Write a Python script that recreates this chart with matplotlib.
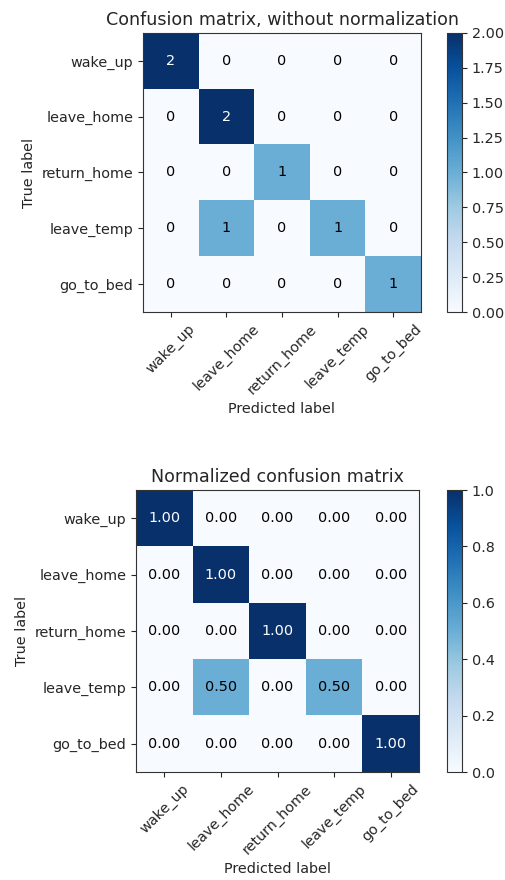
import numpy as np
import matplotlib
matplotlib.use("Agg")
import matplotlib.pyplot as plt

classes = ["wake_up", "leave_home", "return_home", "leave_temp", "go_to_bed"]
cm_counts = [
    [2, 0, 0, 0, 0],
    [0, 2, 0, 0, 0],
    [0, 0, 1, 0, 0],
    [0, 1, 0, 1, 0],
    [0, 0, 0, 0, 1],
]
cm_norm = [
    [1.00, 0.00, 0.00, 0.00, 0.00],
    [0.00, 1.00, 0.00, 0.00, 0.00],
    [0.00, 0.00, 1.00, 0.00, 0.00],
    [0.00, 0.50, 0.00, 0.50, 0.00],
    [0.00, 0.00, 0.00, 0.00, 1.00],
]
titles = ["Confusion matrix, without normalization", "Normalized confusion matrix"]

W, H = 506, 880
fig = plt.figure(figsize=(W / 100, H / 100), dpi=100)
TXT = "#262626"
FS = 10.4
plt.rcParams["text.color"] = TXT
plt.rcParams["axes.labelcolor"] = TXT
plt.rcParams["xtick.color"] = TXT
plt.rcParams["ytick.color"] = TXT
plt.rcParams["axes.edgecolor"] = "#333333"

def px(x0, y0, x1, y1):
    return [x0 / W, 1 - y1 / H, (x1 - x0) / W, (y1 - y0) / H]

panels = [
    (np.array(cm_counts, dtype=float), "d", titles[0], px(143, 33, 421, 312), px(447, 33, 462, 312)),
    (np.array(cm_norm, dtype=float), ".2f", titles[1], px(136, 490, 419, 772), px(447, 490, 462, 772)),
]

for cm, fmt, title, axpos, cbpos in panels:
    ax = fig.add_axes(axpos)
    cax = fig.add_axes(cbpos)
    im = ax.imshow(cm, interpolation="nearest", cmap=plt.cm.Blues, aspect="auto")
    ax.set_title(title, fontsize=12.6)
    cb = fig.colorbar(im, cax=cax)
    cb.ax.tick_params(labelsize=FS)
    ticks = np.arange(len(classes))
    ax.set_xticks(ticks)
    ax.set_xticklabels(classes, rotation=45, fontsize=FS)
    ax.set_yticks(ticks)
    ax.set_yticklabels(classes, fontsize=FS)
    thresh = cm.max() / 2.0
    for i in range(cm.shape[0]):
        for j in range(cm.shape[1]):
            val = int(cm[i, j]) if fmt == "d" else cm[i, j]
            ax.text(j, i, format(val, fmt), ha="center", va="center", fontsize=FS,
                    color="white" if cm[i, j] > thresh else "black")
    ax.set_ylabel("True label", fontsize=FS)
    ax.set_xlabel("Predicted label", fontsize=FS)

fig.savefig("out.png", dpi=100, facecolor="white")
